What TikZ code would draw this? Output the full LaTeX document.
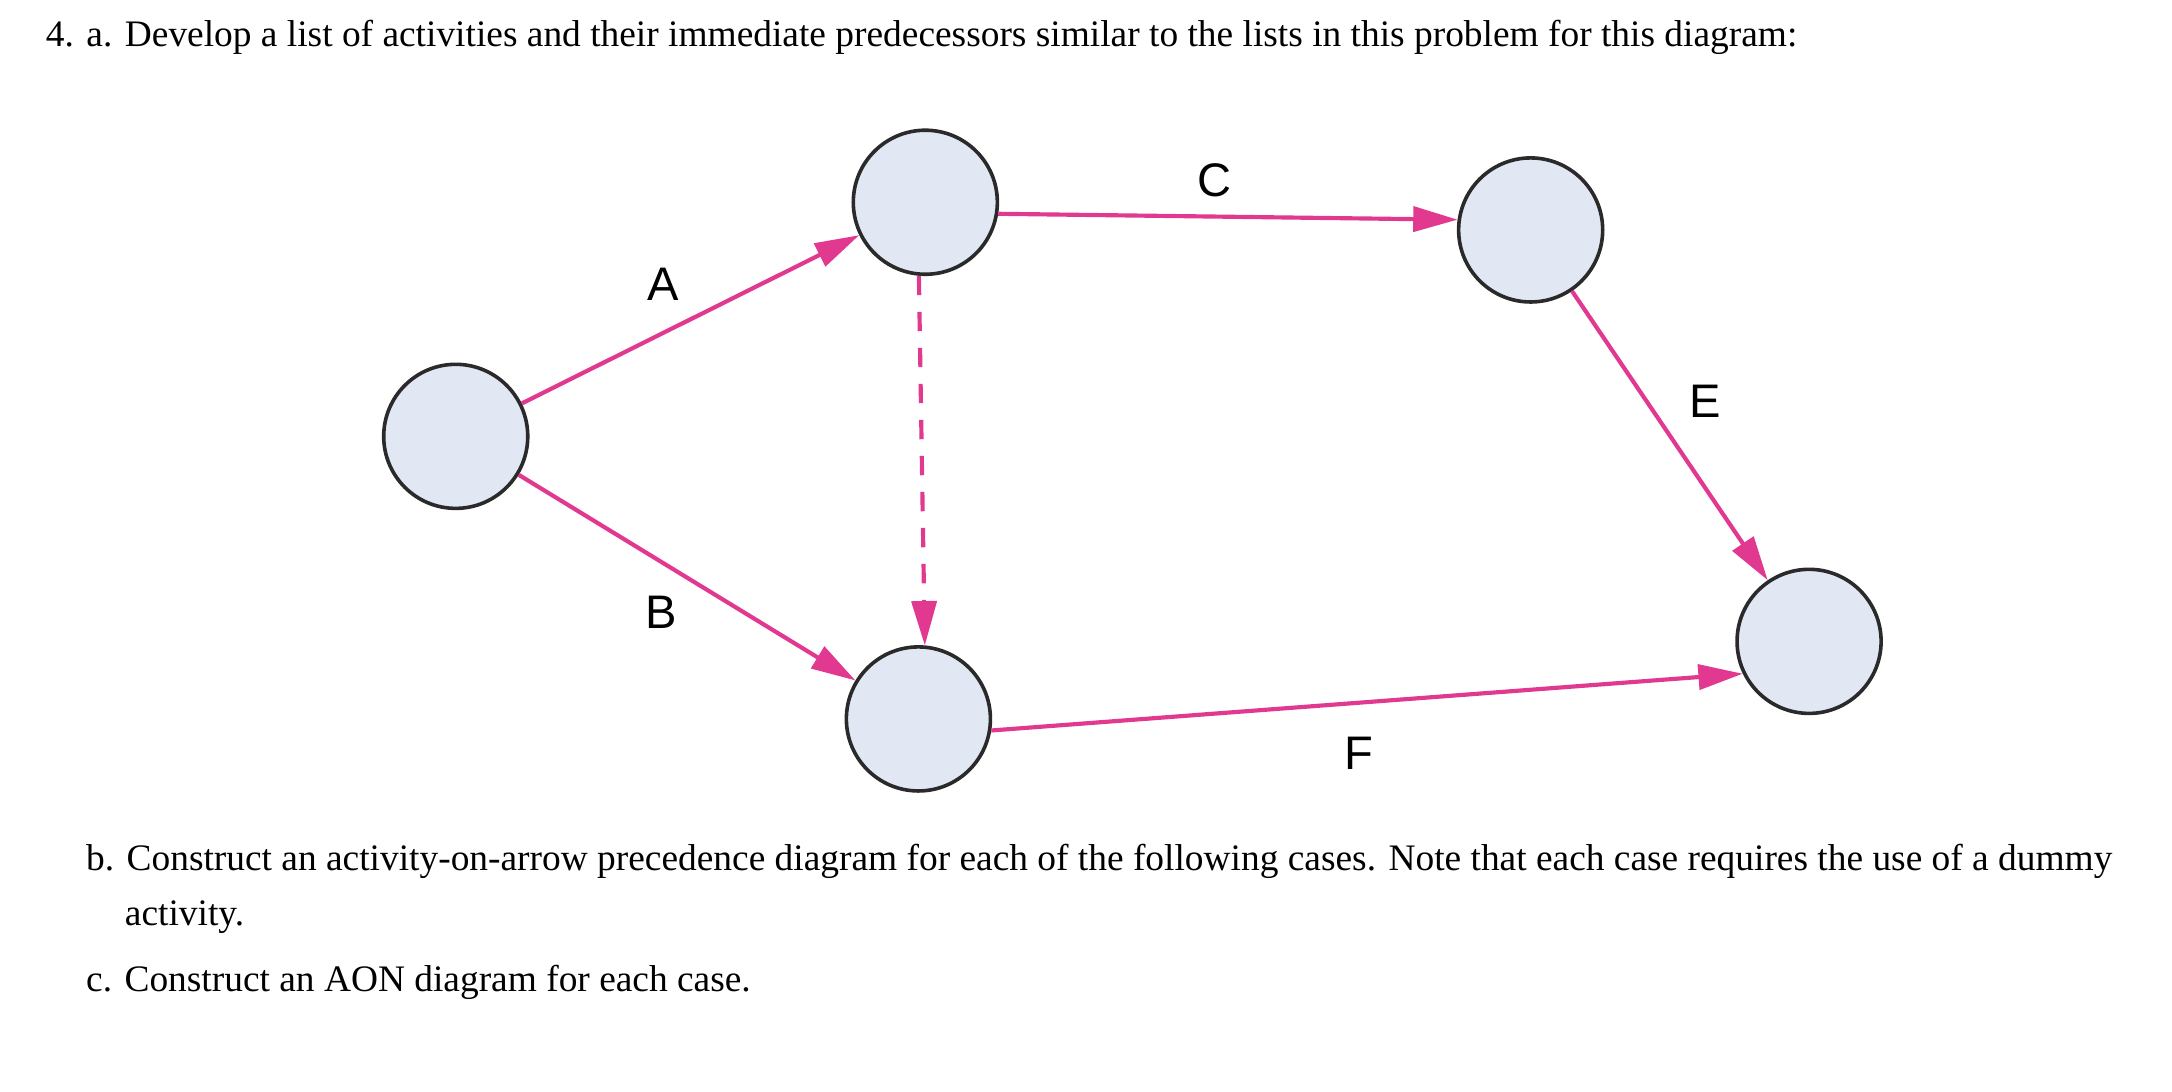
\documentclass[tikz,border=0pt]{standalone}
\usepackage{fontspec}
\setmainfont{Liberation Serif}
\newfontfamily\lblfont{Liberation Sans}
\usetikzlibrary{arrows.meta}
\definecolor{pinkc}{HTML}{E0398F}
\definecolor{nodef}{HTML}{E1E7F3}
\definecolor{nodeb}{HTML}{2A2A2A}
\begin{document}
\begin{tikzpicture}[x=1pt,y=-1pt,
  ev/.style={circle,draw=nodeb,line width=2.6pt,fill=nodef,minimum size=104pt,inner sep=0pt},
  act/.style={draw=pinkc,line width=3pt,-{Triangle[length=32pt,width=18pt]}},
  lbl/.style={font=\lblfont\fontsize{34}{40}\selectfont},
  txt/.style={anchor=west,font=\fontsize{27}{32}\selectfont,inner sep=0pt}]
\useasboundingbox (0,0) rectangle (1568,788);
\node[ev] (n1) at (329,315) {};
\node[ev] (n2) at (668,146) {};
\node[ev] (n3) at (1105,166) {};
\node[ev] (n4) at (663,519) {};
\node[ev] (n5) at (1306,463) {};
\draw[act] (n1) -- (n2);
\draw[act] (n1) -- (n4);
\draw[act] (n2.-9) -- (n3.172);
\draw[act] (n3) -- (n5);
\draw[act] (n4.-9) -- (n5.206);
\draw[act,dash pattern=on 14pt off 12pt] (n2.-95) -- (n4.85);
\node[lbl] (la) at (479,205) {A};
\node[lbl] (lb) at (477,442) {B};
\node[lbl] (lc) at (877,130) {C};
\node[lbl] (le) at (1231,290) {E};
\node[lbl] (lf) at (981,544) {F};
\node[txt] (t1) at (33,27) {4. a. Develop a list of activities and their immediate predecessors similar to the lists in this problem for this diagram:};
\node[txt] (t2) at (62,622) {b. Construct an activity-on-arrow precedence diagram for each of the following cases. Note that each case requires the use of a dummy};
\node[txt] (t3) at (90,662) {activity.};
\node[txt] (t4) at (62,709) {c. Construct an AON diagram for each case.};
\end{tikzpicture}
\end{document}
